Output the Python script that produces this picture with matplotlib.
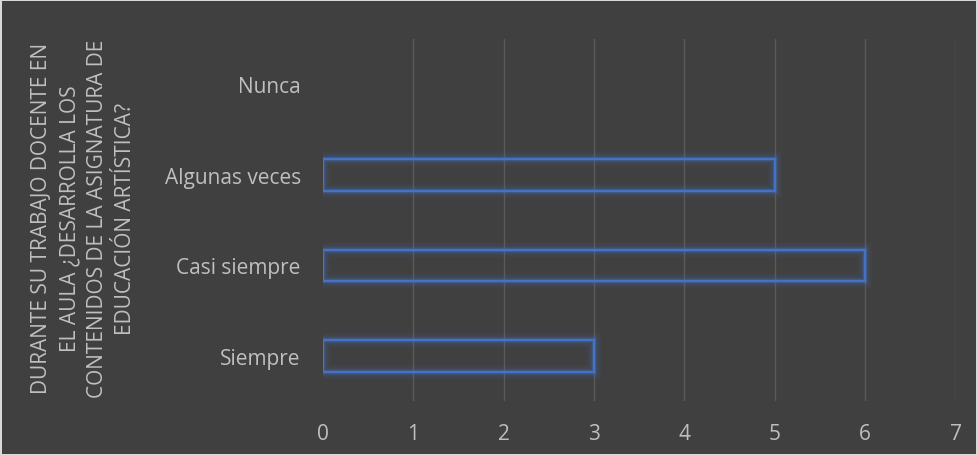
import matplotlib.pyplot as plt
from matplotlib.colors import to_rgba

# Respuestas a la pregunta
categories = ['Siempre', 'Casi siempre', 'Algunas veces', 'Nunca']
counts = [3, 6, 5, 0]
xticks = [0, 1, 2, 3, 4, 5, 6, 7]
ylab = ('DURANTE SU TRABAJO DOCENTE EN\nEL AULA ¿DESARROLLA LOS\n'
        'CONTENIDOS DE LA ASIGNATURA DE\nEDUCACIÓN ARTÍSTICA?')

bg = '#404040'
txt = '#BFBFBF'
blue = '#4472C4'

plt.rcParams['font.family'] = ['Open Sans', 'DejaVu Sans']

fig = plt.figure(figsize=(9.77, 4.56), dpi=100, facecolor=bg,
                 edgecolor='#D9D9D9', linewidth=2)
ax = fig.add_axes([0.3306, 0.118, 0.6475, 0.794])
ax.set_facecolor(bg)

ypos = range(len(categories))


def edge_cols(a):
    # empty bars get no outline
    return [to_rgba(blue, a) if c > 0 else (0, 0, 0, 0) for c in counts]


# soft glow under the bars
for lw, a in [(10, 0.07), (7, 0.10), (4.5, 0.16), (3, 0.22)]:
    ax.barh(ypos, counts, height=0.35, facecolor='none',
            edgecolor=edge_cols(a), linewidth=lw, zorder=2)
ax.barh(ypos, counts, height=0.35, facecolor='none',
        edgecolor=edge_cols(1), linewidth=1.6, zorder=3)

ax.set_xlim(0, 7)
ax.set_ylim(-0.5, len(categories) - 0.5)
ax.set_xticks(xticks)
ax.set_yticks(list(ypos))
ax.set_yticklabels(categories)
ax.grid(axis='x', color='#5A5A5A', linewidth=1)
ax.xaxis.get_gridlines()[0].set_visible(False)
ax.set_axisbelow(True)
for s in ax.spines.values():
    s.set_visible(False)
ax.tick_params(axis='both', length=0, colors=txt, labelsize=15)
ax.tick_params(axis='y', pad=16)
ax.tick_params(axis='x', pad=16)

fig.text(0.0855, 0.52, ylab, rotation=90, ha='center', va='center',
         color=txt, fontsize=15, linespacing=1.45, multialignment='center')

fig.savefig('out.png', facecolor=bg, edgecolor='#D9D9D9')
